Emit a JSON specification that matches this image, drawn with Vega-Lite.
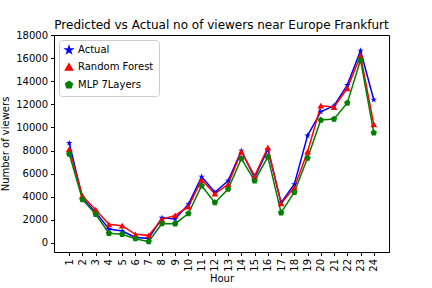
{
  "$schema": "https://vega.github.io/schema/vega-lite/v6.json",
  "width": 335,
  "height": 217,
  "autosize": {"type": "none"},
  "padding": {"left": 54, "top": 35, "right": 43, "bottom": 36},
  "background": "white",
  "title": {"text": "Predicted vs Actual no of viewers near Europe Frankfurt", "font": "DejaVu Sans", "fontSize": 12, "fontWeight": "normal", "color": "black", "offset": -2},
  "config": {
    "font": "DejaVu Sans",
    "view": {"stroke": "black", "strokeWidth": 1},
    "axis": {"labelFont": "DejaVu Sans", "titleFont": "DejaVu Sans", "labelFontSize": 10, "titleFontSize": 10, "titleFontWeight": "normal", "labelColor": "black", "titleColor": "black", "tickColor": "black", "domainColor": "black", "grid": false, "tickSize": 3.5, "labelPadding": 3}
  },
  "data": {"values": [
    {"hour": 1, "series": "Actual", "v": 8650},
    {"hour": 2, "series": "Actual", "v": 3900},
    {"hour": 3, "series": "Actual", "v": 2650},
    {"hour": 4, "series": "Actual", "v": 1210},
    {"hour": 5, "series": "Actual", "v": 1040},
    {"hour": 6, "series": "Actual", "v": 480},
    {"hour": 7, "series": "Actual", "v": 400},
    {"hour": 8, "series": "Actual", "v": 2180},
    {"hour": 9, "series": "Actual", "v": 2080},
    {"hour": 10, "series": "Actual", "v": 3350},
    {"hour": 11, "series": "Actual", "v": 5740},
    {"hour": 12, "series": "Actual", "v": 4390},
    {"hour": 13, "series": "Actual", "v": 5390},
    {"hour": 14, "series": "Actual", "v": 7990},
    {"hour": 15, "series": "Actual", "v": 5650},
    {"hour": 16, "series": "Actual", "v": 8100},
    {"hour": 17, "series": "Actual", "v": 3490},
    {"hour": 18, "series": "Actual", "v": 5080},
    {"hour": 19, "series": "Actual", "v": 9290},
    {"hour": 20, "series": "Actual", "v": 11360},
    {"hour": 21, "series": "Actual", "v": 11880},
    {"hour": 22, "series": "Actual", "v": 13670},
    {"hour": 23, "series": "Actual", "v": 16640},
    {"hour": 24, "series": "Actual", "v": 12400},
    {"hour": 1, "series": "Random Forest", "v": 8130},
    {"hour": 2, "series": "Random Forest", "v": 4070},
    {"hour": 3, "series": "Random Forest", "v": 2880},
    {"hour": 4, "series": "Random Forest", "v": 1615},
    {"hour": 5, "series": "Random Forest", "v": 1500},
    {"hour": 6, "series": "Random Forest", "v": 750},
    {"hour": 7, "series": "Random Forest", "v": 660},
    {"hour": 8, "series": "Random Forest", "v": 2050},
    {"hour": 9, "series": "Random Forest", "v": 2390},
    {"hour": 10, "series": "Random Forest", "v": 3140},
    {"hour": 11, "series": "Random Forest", "v": 5450},
    {"hour": 12, "series": "Random Forest", "v": 4270},
    {"hour": 13, "series": "Random Forest", "v": 5080},
    {"hour": 14, "series": "Random Forest", "v": 7900},
    {"hour": 15, "series": "Random Forest", "v": 5800},
    {"hour": 16, "series": "Random Forest", "v": 8260},
    {"hour": 17, "series": "Random Forest", "v": 3430},
    {"hour": 18, "series": "Random Forest", "v": 4790},
    {"hour": 19, "series": "Random Forest", "v": 7900},
    {"hour": 20, "series": "Random Forest", "v": 11880},
    {"hour": 21, "series": "Random Forest", "v": 11770},
    {"hour": 22, "series": "Random Forest", "v": 13390},
    {"hour": 23, "series": "Random Forest", "v": 16210},
    {"hour": 24, "series": "Random Forest", "v": 10270},
    {"hour": 1, "series": "MLP 7Layers", "v": 7700},
    {"hour": 2, "series": "MLP 7Layers", "v": 3750},
    {"hour": 3, "series": "MLP 7Layers", "v": 2480},
    {"hour": 4, "series": "MLP 7Layers", "v": 840},
    {"hour": 5, "series": "MLP 7Layers", "v": 750},
    {"hour": 6, "series": "MLP 7Layers", "v": 375},
    {"hour": 7, "series": "MLP 7Layers", "v": 115},
    {"hour": 8, "series": "MLP 7Layers", "v": 1680},
    {"hour": 9, "series": "MLP 7Layers", "v": 1670},
    {"hour": 10, "series": "MLP 7Layers", "v": 2540},
    {"hour": 11, "series": "MLP 7Layers", "v": 4960},
    {"hour": 12, "series": "MLP 7Layers", "v": 3490},
    {"hour": 13, "series": "MLP 7Layers", "v": 4670},
    {"hour": 14, "series": "MLP 7Layers", "v": 7300},
    {"hour": 15, "series": "MLP 7Layers", "v": 5390},
    {"hour": 16, "series": "MLP 7Layers", "v": 7450},
    {"hour": 17, "series": "MLP 7Layers", "v": 2620},
    {"hour": 18, "series": "MLP 7Layers", "v": 4390},
    {"hour": 19, "series": "MLP 7Layers", "v": 7360},
    {"hour": 20, "series": "MLP 7Layers", "v": 10640},
    {"hour": 21, "series": "MLP 7Layers", "v": 10730},
    {"hour": 22, "series": "MLP 7Layers", "v": 12120},
    {"hour": 23, "series": "MLP 7Layers", "v": 15840},
    {"hour": 24, "series": "MLP 7Layers", "v": 9540}
  ]},
  "encoding": {
    "x": {"field": "hour", "type": "quantitative", "title": "Hour", "scale": {"domain": [-0.15, 25.15], "nice": false, "zero": false}, "axis": {"values": [1,2,3,4,5,6,7,8,9,10,11,12,13,14,15,16,17,18,19,20,21,22,23,24], "labelAngle": -90, "titlePadding": 2}},
    "y": {"field": "v", "type": "quantitative", "title": "Number of viewers", "scale": {"domain": [-780, 18000], "nice": false, "zero": false}, "axis": {"values": [0,2000,4000,6000,8000,10000,12000,14000,16000,18000], "format": "d", "titlePadding": 5}},
    "color": {"field": "series", "type": "nominal", "title": null, "scale": {"domain": ["Actual", "Random Forest", "MLP 7Layers"], "range": ["#0000ff", "#ff0000", "#008000"]},
      "legend": {"orient": "top-left", "offset": 5, "labelFontSize": 10, "labelFont": "DejaVu Sans", "labelColor": "black", "strokeColor": "#cccccc", "fillColor": "white", "cornerRadius": 3, "padding": 5, "rowPadding": 4, "symbolSize": 50, "symbolStrokeWidth": 1.5}}
  },
  "layer": [
    {"mark": {"type": "line", "strokeWidth": 1.5}},
    {"mark": {"type": "point", "filled": true, "opacity": 1, "size": 45},
     "encoding": {"shape": {"field": "series", "type": "nominal", "title": null, "scale": {"domain": ["Actual", "Random Forest", "MLP 7Layers"], "range": ["M0,-1L0.2245,-0.309L0.951,-0.309L0.363,0.118L0.588,0.809L0,0.382L-0.588,0.809L-0.363,0.118L-0.951,-0.309L-0.2245,-0.309Z", "triangle-up", "M0,-1L0.951,-0.309L0.588,0.809L-0.588,0.809L-0.951,-0.309Z"]}}}}
  ]
}
